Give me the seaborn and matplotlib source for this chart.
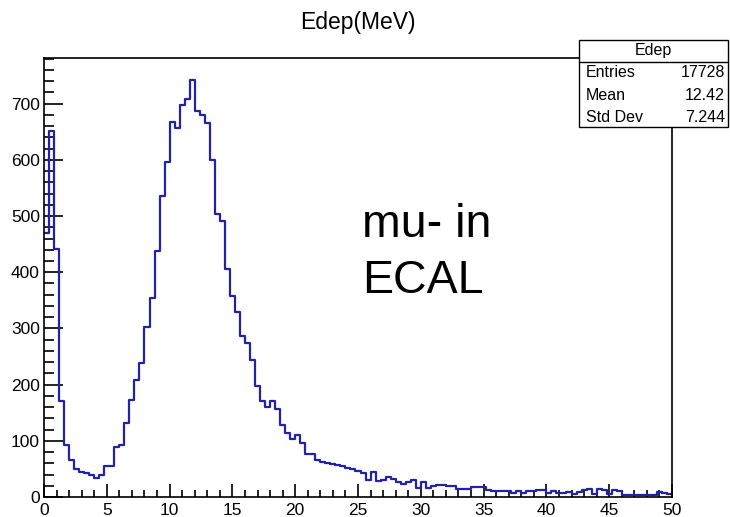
import numpy as np
import pandas as pd
import seaborn as sns
import matplotlib
matplotlib.use("Agg")
import matplotlib.pyplot as plt
from matplotlib.patches import Rectangle
from matplotlib.lines import Line2D
from matplotlib.ticker import MultipleLocator

# Energy deposit histogram: 125 bins of 0.4 MeV between 0 and 50 MeV
x_min, x_max, n_bins = 0.0, 50.0, 125
counts = [
    470, 651, 441, 170, 92, 65, 50, 44, 43, 40,
    34, 40, 56, 56, 89, 92, 132, 172, 209, 238,
    303, 354, 437, 536, 596, 668, 656, 698, 709, 742,
    687, 680, 665, 600, 504, 492, 405, 357, 329, 286,
    274, 244, 197, 170, 161, 170, 157, 129, 114, 104,
    110, 96, 77, 77, 66, 63, 60, 58, 57, 55,
    52, 49, 47, 43, 31, 44, 28, 31, 36, 32,
    26, 23, 26, 30, 16, 26, 16, 19, 22, 22,
    20, 20, 14, 14, 14, 17, 17, 17, 12, 10,
    10, 10, 10, 8, 10, 8, 11, 11, 12, 12,
    7, 10, 7, 7, 9, 6, 9, 12, 15, 6,
    15, 12, 6, 12, 10, 3, 3, 4, 3, 4,
    3, 4, 9, 7, 5,
]

title = "Edep(MeV)"
annotation_lines = ["mu- in", "ECAL"]
stats_name = "Edep"
stats_labels = ["Entries", "Mean", "Std Dev"]
stats_values = ["17728", "12.42", "7.244"]

edges = [float(e) for e in np.linspace(x_min, x_max, n_bins + 1)]
centers = [0.5 * (a + b) for a, b in zip(edges[:-1], edges[1:])]
df = pd.DataFrame({"edep": centers, "n": counts})

sns.set_style("white")
plt.rcParams["font.family"] = ["Liberation Sans", "DejaVu Sans"]
plt.rcParams["text.color"] = "black"
plt.rcParams["xtick.color"] = "black"
plt.rcParams["ytick.color"] = "black"

W, H = 730, 517
fig = plt.figure(figsize=(W / 100, H / 100), dpi=100)
ax = fig.add_axes([44 / W, 20 / H, 628 / W, 439 / H])

line_color = "#2222a8"
sns.histplot(data=df, x="edep", weights="n", bins=edges, element="step",
             fill=False, color=line_color, linewidth=1.6, ax=ax)

ax.set_xlim(x_min, x_max)
ax.set_ylim(0, max(counts) * 1.053)
ax.set_xlabel("")
ax.set_ylabel("")

ax.xaxis.set_major_locator(MultipleLocator(5))
ax.xaxis.set_minor_locator(MultipleLocator(1))
ax.yaxis.set_major_locator(MultipleLocator(100))
ax.yaxis.set_minor_locator(MultipleLocator(20))

ax.tick_params(axis="y", which="major", direction="in", length=13.5, width=1.2,
               left=True, right=False, labelsize=12.5, pad=3,
               colors="black", labelcolor="black")
ax.tick_params(axis="y", which="minor", direction="in", length=7.5, width=1.2,
               left=True, right=False, colors="black")
ax.tick_params(axis="x", which="major", direction="in", length=9.5, width=1.2,
               bottom=True, top=False, labelsize=12.5, pad=4,
               colors="black", labelcolor="black")
ax.tick_params(axis="x", which="minor", direction="in", length=5, width=1.2,
               bottom=True, top=False, colors="black")
for sp in ax.spines.values():
    sp.set_visible(True)
    sp.set_color("black")
    sp.set_linewidth(1.2)

# Title
fig.text(358 / W, 1 - 23 / H, title, ha="center", va="center", fontsize=16.5,
         color="black")

# Annotation text
fig.text(362 / W, 1 - 237 / H, annotation_lines[0], ha="left", va="baseline",
         fontsize=33.5, color="black")
fig.text(362 / W, 1 - 293 / H, annotation_lines[1], ha="left", va="baseline",
         fontsize=33.5, color="black")

# Statistics box
bx0, bx1, by0, by1, byh = 579, 728, 127, 40, 62
fig.patches.append(Rectangle((bx0 / W, 1 - by0 / H), (bx1 - bx0) / W,
                             (by0 - by1) / H, transform=fig.transFigure,
                             facecolor="white", edgecolor="black",
                             linewidth=1.0, zorder=10))
fig.lines.append(Line2D([bx0 / W, bx1 / W], [1 - byh / H, 1 - byh / H],
                        transform=fig.transFigure, color="black",
                        linewidth=1.0, zorder=11))
fig.text((bx0 + bx1) / 2 / W, 1 - 51 / H, stats_name, ha="center",
         va="center", fontsize=11.5, zorder=12, color="black")
row_y = [73, 95, 117]
for lab, val, yy in zip(stats_labels, stats_values, row_y):
    fig.text(586 / W, 1 - yy / H, lab, ha="left", va="center",
             fontsize=11.5, zorder=12, color="black")
    fig.text(725 / W, 1 - yy / H, val, ha="right", va="center",
             fontsize=11.5, zorder=12, color="black")

fig.savefig("out.png", dpi=100)
